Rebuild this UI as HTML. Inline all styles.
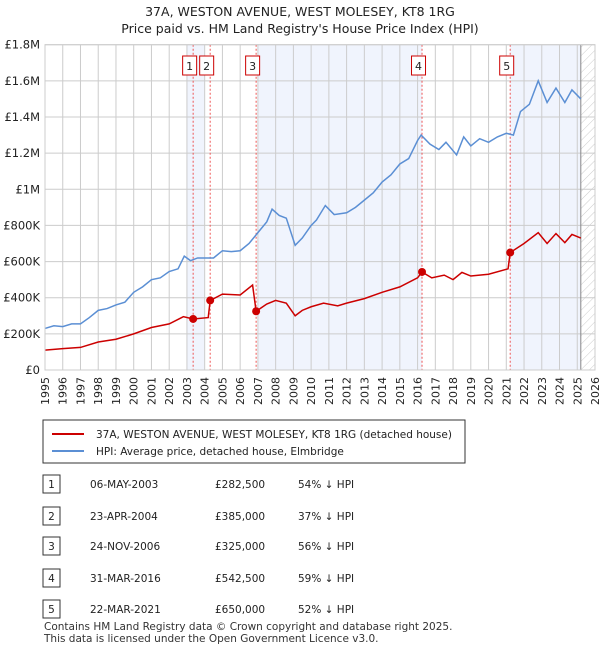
<!DOCTYPE html>
<html><head><meta charset="utf-8"><style>
body{margin:0;background:#fff;font-family:"Liberation Sans","DejaVu Sans",sans-serif;}
svg text{font-family:"DejaVu Sans","Liberation Sans",sans-serif;}
</style></head><body>
<svg id="c" width="600" height="650" xmlns="http://www.w3.org/2000/svg">
<defs><pattern id="hatch" width="6" height="6" patternUnits="userSpaceOnUse" patternTransform="rotate(45)"><line x1="0" y1="0" x2="0" y2="6" stroke="#ccc" stroke-width="1"/></pattern></defs>
<text x="300" y="16" text-anchor="middle" font-size="12.5" fill="#222">37A, WESTON AVENUE, WEST MOLESEY, KT8 1RG</text>
<text x="300" y="33" text-anchor="middle" font-size="12.5" fill="#222">Price paid vs. HM Land Registry's House Price Index (HPI)</text>
<g id="plot"></g>
<g>
<rect x="43" y="420" width="422" height="43" fill="#fff" stroke="#333" stroke-width="1"/>
<line x1="52" y1="434" x2="84" y2="434" stroke="#cc0000" stroke-width="2"/>
<text x="96" y="438" font-size="10.5" fill="#222">37A, WESTON AVENUE, WEST MOLESEY, KT8 1RG (detached house)</text>
<line x1="52" y1="451" x2="84" y2="451" stroke="#5b8fd4" stroke-width="2"/>
<text x="96" y="455" font-size="10.5" fill="#222">HPI: Average price, detached house, Elmbridge</text>
</g>
<g id="table"></g>
<text x="44" y="630" font-size="10.5" fill="#333">Contains HM Land Registry data © Crown copyright and database right 2025.</text>
<text x="44" y="642" font-size="10.5" fill="#333">This data is licensed under the Open Government Licence v3.0.</text>
</svg>
<script>
const yearTicks=[1995,1996,1997,1998,1999,2000,2001,2002,2003,2004,2005,2006,2007,2008,2009,2010,2011,2012,2013,2014,2015,2016,2017,2018,2019,2020,2021,2022,2023,2024,2025,2026];
const valueTicks=[0,200,400,600,800,1000,1200,1400,1600,1800];
const valueTickLabels=["£0","£200K","£400K","£600K","£800K","£1M","£1.2M","£1.4M","£1.6M","£1.8M"];
const hpiT=[1995,1995.5,1996,1996.5,1997,1997.5,1998,1998.5,1999,1999.5,2000,2000.5,2001,2001.5,2002,2002.5,2002.85,2003.2,2003.6,2004,2004.5,2005,2005.5,2006,2006.5,2007,2007.5,2007.8,2008.2,2008.6,2009.1,2009.5,2010,2010.3,2010.8,2011.3,2012,2012.5,2013,2013.5,2014,2014.5,2015,2015.5,2016,2016.2,2016.7,2017.2,2017.6,2018.2,2018.6,2019,2019.5,2020,2020.5,2021,2021.4,2021.8,2022.3,2022.8,2023.3,2023.8,2024.3,2024.7,2025.2];
const hpiV=[230,245,240,255,255,290,330,340,360,375,430,460,500,510,545,560,630,605,620,620,620,660,655,660,700,760,820,890,855,840,690,730,800,830,910,860,870,900,940,980,1040,1080,1140,1170,1270,1300,1250,1220,1260,1190,1290,1240,1280,1260,1290,1310,1300,1430,1470,1600,1480,1560,1480,1550,1500];
const ppT=[1995,1996,1997,1998,1999,2000,2001,2002,2002.8,2003.35,2004.2,2004.31,2005,2006,2006.7,2006.9,2007.5,2008,2008.6,2009.1,2009.5,2010,2010.7,2011.5,2012,2013,2014,2015,2016,2016.25,2016.8,2017.5,2018,2018.5,2019,2020,2021.1,2021.22,2022,2022.8,2023.3,2023.8,2024.3,2024.7,2025.2];
const ppV=[110,118,125,155,170,200,235,255,295,282.5,290,385,420,415,470,325,365,385,370,300,330,350,370,355,370,395,430,460,510,542.5,510,525,500,540,520,530,560,650,700,760,700,755,705,750,730];
const saleT=[2003.35,2004.31,2006.9,2016.25,2021.22];
const saleV=[282.5,385,325,542.5,650];
const saleLabels=["1","2","3","4","5"];
const saleDates=["06-MAY-2003","23-APR-2004","24-NOV-2006","31-MAR-2016","22-MAR-2021"];
const salePrices=["£282,500","£385,000","£325,000","£542,500","£650,000"];
const salePct=["54% ↓ HPI","37% ↓ HPI","56% ↓ HPI","59% ↓ HPI","52% ↓ HPI"];
const dataEnd=2025.2;
const bandStart=[2003,2007,2021.22];
const bandEnd=[2004,2016.25,2025.2];

const NS="http://www.w3.org/2000/svg";
const X0=45,X1=595,Y0=370,Y1=44.7;
const xs=t=>X0+(t-1995)/(2026-1995)*(X1-X0);
const ys=v=>Y0-v/1800*(Y0-Y1);
const plot=document.getElementById('plot');
function el(tag,attrs,parent){const e=document.createElementNS(NS,tag);for(const k in attrs)e.setAttribute(k,attrs[k]);(parent||plot).appendChild(e);return e;}
bandStart.forEach((s,i)=>{const r=el('rect',{x:xs(s),y:Y1,width:xs(bandEnd[i])-xs(s),height:Y0-Y1,fill:'#f0f4fd'});

});
const hz=el('rect',{x:xs(dataEnd),y:Y1,width:X1-xs(dataEnd),height:Y0-Y1,fill:'url(#hatch)'});


yearTicks.forEach(y=>{el('line',{x1:xs(y),x2:xs(y),y1:Y1,y2:Y0,stroke:'#ccc','stroke-width':1});
const t=el('text',{x:0,y:0,'font-size':11,fill:'#222','text-anchor':'end',transform:`translate(${xs(y)+4},${Y0+7}) rotate(-90)`});t.textContent=y;

});
valueTicks.forEach((v,i)=>{el('line',{x1:X0,x2:X1,y1:ys(v),y2:ys(v),stroke:'#ccc','stroke-width':1});
const t=el('text',{x:X0-5,y:ys(v)+4,'font-size':11.5,fill:'#222','text-anchor':'end'});t.textContent=valueTickLabels[i];

});
el('line',{x1:xs(dataEnd),x2:xs(dataEnd),y1:Y1,y2:Y0,stroke:'#888','stroke-width':1});
saleT.forEach((t,i)=>{el('line',{x1:xs(t),x2:xs(t),y1:Y1,y2:Y0,stroke:'#e55','stroke-width':1,'stroke-dasharray':'2,2'});
const g=el('g',{});


el('rect',{x:xs(t)-10.5,y:56,width:14,height:19,fill:'#fff',stroke:'#cc0000'},g);
const tx=el('text',{x:xs(t)-3.5,y:70,'font-size':11,'text-anchor':'middle',fill:'#222'},g);tx.textContent=saleLabels[i];});
const hp=el('polyline',{points:hpiT.map((t,i)=>xs(t)+','+ys(hpiV[i])).join(' '),fill:'none',stroke:'#5b8fd4','stroke-width':1.5});


const pp=el('polyline',{points:ppT.map((t,i)=>xs(t)+','+ys(ppV[i])).join(' '),fill:'none',stroke:'#cc0000','stroke-width':1.5});


saleT.forEach((t,i)=>{const c=el('circle',{cx:xs(t),cy:ys(saleV[i]),r:4,fill:'#cc0000'});

});
el('rect',{x:X0,y:Y1,width:X1-X0,height:Y0-Y1,fill:'none',stroke:'#ccc'});
const tb=document.getElementById('table');
const rowY=[484,516,546,578,609];
saleLabels.forEach((l,i)=>{const y=rowY[i];
const r=el('g',{},tb);


el('rect',{x:43,y:y-9,width:17,height:18,fill:'#fff',stroke:'#333'},r);
const a=el('text',{x:51.5,y:y+4,'font-size':10.5,'text-anchor':'middle',fill:'#222'},r);a.textContent=l;
const d=el('text',{x:90,y:y+4,'font-size':10.5,fill:'#222'},r);d.textContent=saleDates[i];
const p=el('text',{x:215,y:y+4,'font-size':10.5,fill:'#222'},r);p.textContent=salePrices[i];
const q=el('text',{x:298,y:y+4,'font-size':10.5,fill:'#222'},r);q.textContent=salePct[i];});
</script>
</body></html>
